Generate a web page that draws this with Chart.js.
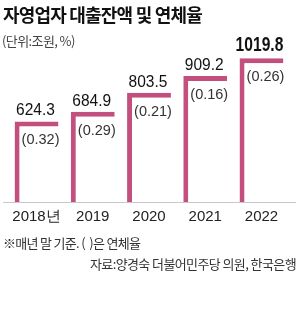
<!DOCTYPE html>
<html>
<head>
<meta charset="utf-8">
<script src="https://cdn.jsdelivr.net/npm/chart.js@4/dist/chart.umd.min.js"></script>
<style>
  html, body { margin: 0; padding: 0; background: #fff; }
  #wrap { position: relative; width: 300px; height: 323px; overflow: hidden; }
  #c { position: absolute; left: 0; top: 0; }
  .t { position: absolute; white-space: nowrap; font-family: "Noto Sans CJK KR", "Noto Sans", sans-serif; }
  #title { left: 3px; top: 1px; font-size: 18px; font-weight: 700; color: #111; letter-spacing: -0.8px; line-height: 26px; }
  #unit { left: 2px; top: 32px; font-size: 13px; color: #444; letter-spacing: -0.6px; line-height: 18px; }
  #note { left: 3px; top: 234px; font-size: 13px; color: #333; letter-spacing: -0.7px; line-height: 18px; }
  #src { right: 4px; top: 255px; font-size: 13px; color: #333; letter-spacing: -0.6px; line-height: 18px; }
</style>
</head>
<body>
<div id="wrap">
  <canvas id="c" width="300" height="323"></canvas>
  <div class="t" id="title">자영업자 대출잔액 및 연체율</div>
  <div class="t" id="unit">(단위:조원, %)</div>
  <div class="t" id="note">※매년 말 기준. (&nbsp;&nbsp;)은 연체율</div>
  <div class="t" id="src">자료:양경숙 더불어민주당 의원, 한국은행</div>
</div>
<script>
const categories = ['2018년', '2019', '2020', '2021', '2022'];
const balances = [624.3, 684.9, 803.5, 909.2, 1019.8];
const delinquencyRates = [0.32, 0.29, 0.21, 0.16, 0.26];

const PINK = '#c24f7e';

const labelPlugin = {
  id: 'barLabels',
  beforeDatasetsDraw(chart) {
    const ctx = chart.ctx;
    const y = chart.chartArea.bottom;
    ctx.save();
    ctx.strokeStyle = '#c8c8c8';
    ctx.lineWidth = 1;
    ctx.beginPath();
    ctx.moveTo(3, Math.round(y) + 0.5);
    ctx.lineTo(296, Math.round(y) + 0.5);
    ctx.stroke();
    ctx.restore();
  },
  afterDatasetsDraw(chart) {
    const ctx = chart.ctx;
    const meta = chart.getDatasetMeta(0);
    const last = meta.data.length - 1;
    meta.data.forEach((bar, i) => {
      const left = bar.x - bar.width / 2;
      const top = bar.y;
      const txt = balances[i].toFixed(1);
      ctx.save();
      ctx.fillStyle = '#111';
      ctx.textBaseline = 'alphabetic';
      ctx.textAlign = 'center';
      if (i === last) {
        ctx.font = 'bold 20px "Liberation Sans", Arial, sans-serif';
        ctx.translate(bar.x - 2, top - 7);
        ctx.scale(0.78, 1);
        ctx.fillText(txt, 0, 0);
      } else {
        ctx.font = '16px "Liberation Sans", Arial, sans-serif';
        ctx.translate(bar.x - 1, top - 6);
        ctx.scale(0.97, 1);
        ctx.fillText(txt, 0, 0);
      }
      ctx.restore();

      ctx.save();
      ctx.fillStyle = '#333';
      ctx.font = '14.5px "Liberation Sans", Arial, sans-serif';
      ctx.textAlign = 'left';
      ctx.textBaseline = 'middle';
      ctx.fillText('(' + delinquencyRates[i].toFixed(2) + ')', left + 7, top + 19);
      ctx.restore();
    });
  }
};

new Chart(document.getElementById('c'), {
  type: 'bar',
  data: {
    labels: categories,
    datasets: [{
      data: balances,
      backgroundColor: '#ffffff',
      borderColor: PINK,
      borderWidth: { left: 5, top: 5, right: 0, bottom: 0 },
      borderSkipped: false,
      categoryPercentage: 1,
      barPercentage: 0.78
    }]
  },
  options: {
    responsive: false,
    animation: false,
    events: [],
    layout: { padding: { left: 8.4, right: 10.4, top: 30, bottom: 91 } },
    plugins: { legend: { display: false }, title: { display: false }, tooltip: { enabled: false } },
    scales: {
      x: {
        grid: { display: false, drawTicks: false },
        border: { display: false },
        ticks: {
          color: '#222',
          font: { family: '"Liberation Sans", Arial, sans-serif', size: 15 },
          padding: 6,
          maxRotation: 0,
          autoSkip: false
        },
        afterFit(scale) { scale.height = 30; }
      },
      y: {
        display: false,
        min: 119,
        max: 1197
      }
    }
  },
  plugins: [labelPlugin]
});
</script>
</body>
</html>
